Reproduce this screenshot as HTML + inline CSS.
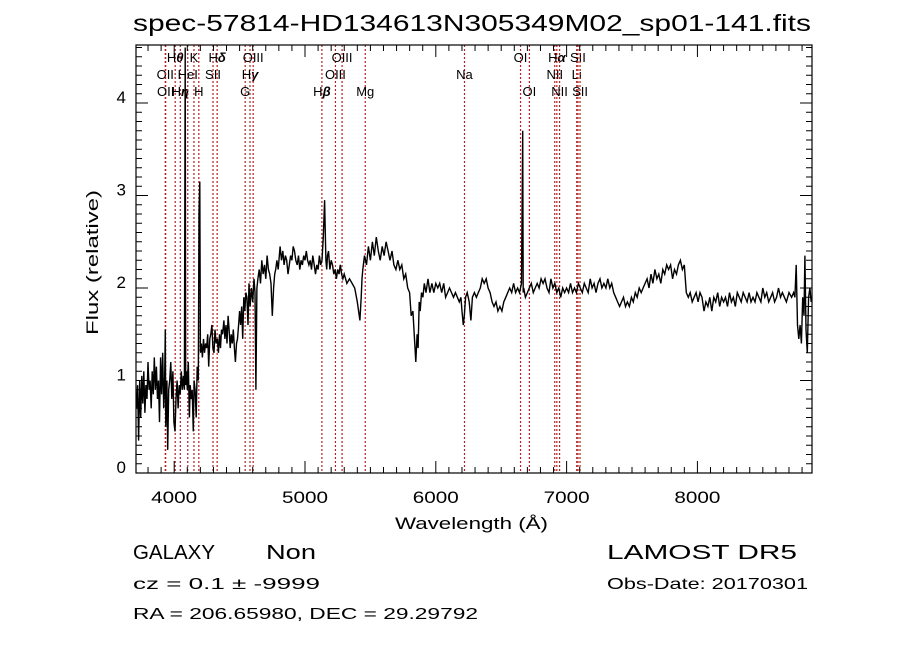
<!DOCTYPE html>
<html><head><meta charset="utf-8"><style>
html,body{margin:0;padding:0;background:#fff;}
svg{display:block;font-family:"Liberation Sans","DejaVu Sans",sans-serif;}
</style></head><body>
<svg id="chart" width="900" height="649" viewBox="0 0 900 649" xmlns="http://www.w3.org/2000/svg">
<rect width="900" height="649" fill="#fff"/>
<text x="133" y="31" font-size="23" textLength="678" lengthAdjust="spacingAndGlyphs" fill="#000">spec-57814-HD134613N305349M02_sp01-141.fits</text>
<g id="lines"></g>
<g id="spec"></g>
<g id="axes"></g>
<text x="395" y="529" font-size="17" textLength="153" lengthAdjust="spacingAndGlyphs">Wavelength (Å)</text>
<text transform="translate(98,335) rotate(-90)" font-size="17" textLength="145" lengthAdjust="spacingAndGlyphs">Flux (relative)</text>
<text x="133" y="559" font-size="20" textLength="82" lengthAdjust="spacingAndGlyphs">GALAXY</text>
<text x="266" y="559" font-size="20" textLength="50" lengthAdjust="spacingAndGlyphs">Non</text>
<text x="133" y="589" font-size="16" textLength="187" lengthAdjust="spacingAndGlyphs">cz = 0.1 ± -9999</text>
<text x="133" y="619" font-size="16" textLength="345" lengthAdjust="spacingAndGlyphs">RA = 206.65980, DEC =  29.29792</text>
<text x="607" y="559" font-size="20" textLength="190" lengthAdjust="spacingAndGlyphs">LAMOST DR5</text>
<text x="607" y="589" font-size="16" textLength="201" lengthAdjust="spacingAndGlyphs">Obs-Date: 20170301</text>
</svg>
<script>
const wavelengths=[3712,3720,3728,3736,3744,3752,3760,3768,3776,3784,3792,3800,3808,3816,3824,3832,3840,3848,3856,3864,3872,3880,3888,3896,3904,3912,3920,3926,3932,3936,3944,3950,3958,3966,3974,3982,3990,3998,4006,4014,4022,4030,4038,4046,4054,4062,4070,4078,4084,4088,4094,4100,4108,4116,4122,4130,4138,4146,4152,4160,4168,4176,4184,4190,4196,4200,4208,4216,4224,4232,4240,4248,4256,4264,4272,4280,4288,4296,4304,4312,4320,4330,4338,4346,4354,4362,4370,4380,4388,4396,4404,4412,4420,4428,4436,4444,4452,4460,4468,4476,4484,4492,4500,4508,4516,4524,4532,4540,4548,4556,4564,4572,4580,4590,4600,4610,4618,4625,4632,4640,4650,4660,4670,4680,4690,4700,4710,4720,4730,4740,4750,4760,4768,4776,4785,4795,4810,4820,4830,4840,4850,4860,4870,4880,4890,4900,4910,4920,4930,4940,4950,4960,4970,4980,4990,5000,5010,5020,5030,5040,5050,5060,5070,5080,5090,5100,5110,5120,5130,5140,5150,5160,5166,5172,5180,5190,5200,5210,5220,5230,5240,5250,5260,5270,5280,5290,5300,5320,5340,5360,5380,5400,5420,5430,5436,5442,5455,5470,5485,5500,5515,5530,5545,5560,5575,5590,5605,5620,5635,5650,5665,5680,5695,5710,5725,5740,5755,5770,5785,5800,5812,5825,5837,5847,5857,5865,5873,5881,5891,5901,5912,5925,5940,5955,5970,5985,6000,6015,6030,6045,6060,6075,6090,6105,6120,6135,6150,6165,6180,6192,6200,6210,6218,6228,6240,6255,6268,6280,6295,6310,6325,6340,6355,6370,6385,6400,6415,6430,6445,6460,6475,6490,6505,6520,6535,6550,6565,6580,6595,6610,6625,6640,6655,6664,6668,6672,6685,6700,6715,6730,6745,6760,6775,6790,6805,6820,6835,6850,6865,6880,6895,6910,6925,6940,6955,6970,6985,7000,7015,7030,7045,7060,7075,7090,7105,7120,7135,7150,7165,7180,7195,7210,7225,7240,7255,7270,7285,7300,7315,7330,7345,7360,7375,7390,7405,7420,7435,7450,7465,7480,7495,7510,7525,7540,7555,7570,7585,7600,7615,7630,7645,7660,7675,7690,7705,7720,7735,7750,7765,7780,7795,7810,7825,7840,7855,7870,7885,7900,7915,7930,7945,7960,7975,7990,8005,8020,8035,8050,8065,8080,8095,8110,8125,8140,8155,8170,8185,8200,8215,8230,8245,8260,8275,8290,8305,8320,8335,8350,8365,8380,8395,8410,8425,8440,8455,8470,8485,8500,8515,8530,8545,8560,8575,8590,8605,8620,8635,8650,8665,8680,8700,8720,8735,8745,8755,8765,8775,8785,8795,8805,8815,8822,8830,8840,8850,8860,8870];
const fluxes=[0.7,0.95,0.35,1.0,0.6,1.05,0.75,1.1,0.65,0.95,0.8,1.2,0.9,1.0,0.7,1.1,0.85,1.25,0.9,1.15,0.8,1.0,0.55,1.25,0.85,1.3,0.7,0.9,1.55,0.5,1.0,0.25,0.9,1.0,1.2,0.8,1.1,0.55,0.45,0.8,1.0,0.7,0.95,0.85,1.1,0.9,1.05,0.9,4.6,0.95,1.1,0.9,1.2,0.6,0.95,0.8,0.9,0.45,1.0,0.9,0.6,1.15,1.0,2.8,3.15,1.3,1.4,1.25,1.45,1.3,1.4,1.35,1.5,1.15,1.45,1.5,1.6,1.35,1.3,1.55,1.4,1.45,1.3,1.5,1.35,1.55,1.5,1.65,1.45,1.6,1.4,1.7,1.55,1.35,1.5,1.4,1.55,1.35,1.2,1.4,1.45,1.6,1.75,1.6,1.8,1.45,1.9,1.75,1.95,1.9,1.6,2.05,1.8,2.0,1.85,2.1,1.95,0.9,2.0,2.1,2.2,2.05,2.3,2.15,2.25,2.1,2.35,2.2,2.15,2.05,1.7,2.0,2.15,2.2,2.3,2.2,2.45,2.3,2.4,2.25,2.35,2.3,2.15,2.25,2.35,2.3,2.45,2.4,2.3,2.25,2.35,2.2,2.3,2.25,2.35,2.3,2.4,2.3,2.25,2.3,2.2,2.35,2.25,2.15,2.25,2.2,2.35,2.25,2.3,2.55,2.95,2.3,2.2,2.35,2.4,2.2,2.3,2.25,2.15,2.2,2.1,2.2,2.15,2.25,2.15,2.1,2.15,2.05,2.1,2.05,2.0,1.85,1.65,1.9,2.1,2.2,2.35,2.25,2.45,2.3,2.5,2.35,2.55,2.4,2.3,2.45,2.35,2.5,2.4,2.3,2.4,2.25,2.2,2.3,2.2,2.25,2.1,2.15,2.0,1.95,1.7,1.75,1.45,1.2,1.5,1.35,1.85,1.75,1.95,1.9,2.05,1.95,2.1,1.95,2.05,1.95,2.05,2.0,2.05,1.95,2.05,1.9,1.95,2.0,1.95,1.9,1.95,1.9,1.85,1.9,1.75,1.6,1.7,1.9,1.95,1.85,1.65,1.9,1.95,1.9,1.95,2.0,2.1,2.05,2.1,2.0,1.95,1.85,1.8,1.85,1.75,1.8,1.75,1.85,1.9,1.95,2.0,1.95,2.05,1.95,2.0,1.95,2.05,3.7,1.95,2.0,1.9,1.95,2.0,2.05,1.95,2.0,2.05,2.0,2.1,2.05,2.1,2.0,1.95,2.1,2.0,2.05,1.95,2.0,1.9,2.0,1.95,2.0,1.95,2.05,1.95,2.0,1.95,2.05,2.0,1.95,2.05,2.0,1.95,2.1,2.0,2.05,1.95,2.05,2.1,2.0,2.05,2.0,2.1,2.0,2.05,1.95,1.9,1.85,1.8,1.85,1.9,1.8,1.85,1.8,1.9,1.85,1.95,1.9,2.0,1.95,2.0,2.05,2.1,2.0,2.15,2.05,2.2,2.1,2.15,2.05,2.2,2.15,2.25,2.2,2.25,2.1,2.2,2.15,2.25,2.3,2.2,2.25,1.95,1.9,1.95,1.85,1.9,1.95,1.85,1.95,1.9,1.75,1.85,1.8,1.9,1.75,1.9,1.85,1.95,1.8,1.9,1.85,1.9,1.8,1.95,1.85,1.9,1.8,1.95,1.9,1.85,1.95,1.9,1.85,1.95,1.85,1.9,1.85,1.95,1.9,1.85,2.0,1.9,1.95,1.85,1.9,1.95,1.85,1.9,2.0,1.9,1.95,1.9,1.85,1.95,1.9,1.95,1.9,2.25,1.6,1.45,1.6,1.4,1.9,1.7,2.35,1.55,1.3,1.9,2.0,1.85,1.95];
const lineRest=[3726,3729,3798,3835,3889,3934,3969,4072,4102,4305,4340,4363,4861,4959,5007,5175,5894,6300,6364,6548,6563,6583,6707,6716,6731];
const lineLabels=["OII","OII","Hθ","Hη","HeI","K","H","SII","Hδ","G","Hγ","OIII","Hβ","OIII","OIII","Mg","Na","OI","OI","NII","Hα","NII","Li","SII","SII"];
const lineRows=[2,3,1,3,2,1,3,2,1,3,2,1,3,2,1,3,2,1,3,2,1,3,2,1,3];
const xTicks=[4000,5000,6000,7000,8000];
const yTicks=[0,1,2,3,4];
const redshiftFactor=1.0552;

const NS="http://www.w3.org/2000/svg";
const L=136,R=812,T=45,B=473;
const XMIN=3708,XMAX=8876,YMIN=0,YMAX=(B-T)/92.5;
function xs(w){return L+(w-XMIN)/(XMAX-XMIN)*(R-L);}
function ys(f){return B-(f-YMIN)/(YMAX-YMIN)*(B-T);}
function mk(tag,attrs,parent){const e=document.createElementNS(NS,tag);for(const k in attrs)e.setAttribute(k,attrs[k]);parent.appendChild(e);return e;}

const gl=document.getElementById('lines');
for(let i=0;i<lineRest.length;i++){
  const x=xs(lineRest[i]*redshiftFactor);
  const ln=mk('line',{x1:x,x2:x,y1:T,y2:B,stroke:'#b22222','stroke-width':1.2,'stroke-dasharray':'2,2'},gl);
  
  
  const ty=[0,62,79,96][lineRows[i]];
  const t=mk('text',{x:x,y:ty,'font-size':13,'text-anchor':'middle',fill:'#000'},gl);
  
  
  const lab=lineLabels[i];
  if(/[α-ω]/.test(lab.charAt(1))){
    t.appendChild(document.createTextNode(lab.charAt(0)));
    const sp=mk('tspan',{'font-style':'italic','font-weight':'bold'},t);
    sp.textContent=lab.slice(1);
  } else {
    t.textContent=lab;
  }
}

const gs=document.getElementById('spec');
const clip=mk('clipPath',{id:'pc'},gs);
mk('rect',{x:L,y:T,width:R-L,height:B-T},clip);
let pts=[];
for(let i=0;i<wavelengths.length;i++){pts.push(xs(wavelengths[i]).toFixed(1)+','+ys(fluxes[i]).toFixed(1));}
const pl=mk('polyline',{points:pts.join(' '),fill:'none',stroke:'#000','stroke-width':1.4,'stroke-linejoin':'miter','clip-path':'url(#pc)'},gs);



const ga=document.getElementById('axes');
const fr=mk('rect',{x:L,y:T,width:R-L,height:B-T,fill:'none',stroke:'#000','stroke-width':1.2},ga);


for(let w=3800;w<=XMAX;w+=100){
  const x=xs(w);const major=(w%1000===0);const len=major?12:6;
  mk('line',{x1:x,x2:x,y1:B,y2:B-len,stroke:'#000','stroke-width':1},ga);
  mk('line',{x1:x,x2:x,y1:T,y2:T+len,stroke:'#000','stroke-width':1},ga);
}
xTicks.forEach(v=>{
  const t=mk('text',{x:xs(v),y:B+30,'font-size':17,'text-anchor':'middle',textLength:46,lengthAdjust:'spacingAndGlyphs'},ga);
  t.textContent=v;
  
  
});
for(let k=0;k*0.1<=YMAX;k++){
  const y=ys(k*0.1);const len=(k%10===0)?12:6;
  mk('line',{x1:L,x2:L+len,y1:y,y2:y,stroke:'#000','stroke-width':1},ga);
  mk('line',{x1:R,x2:R-len,y1:y,y2:y,stroke:'#000','stroke-width':1},ga);
}
yTicks.forEach(v=>{
  const t=mk('text',{x:L-10,y:ys(v)+0,'font-size':17,'text-anchor':'end'},ga);
  t.textContent=v;
  
  
});
</script>
</body></html>
